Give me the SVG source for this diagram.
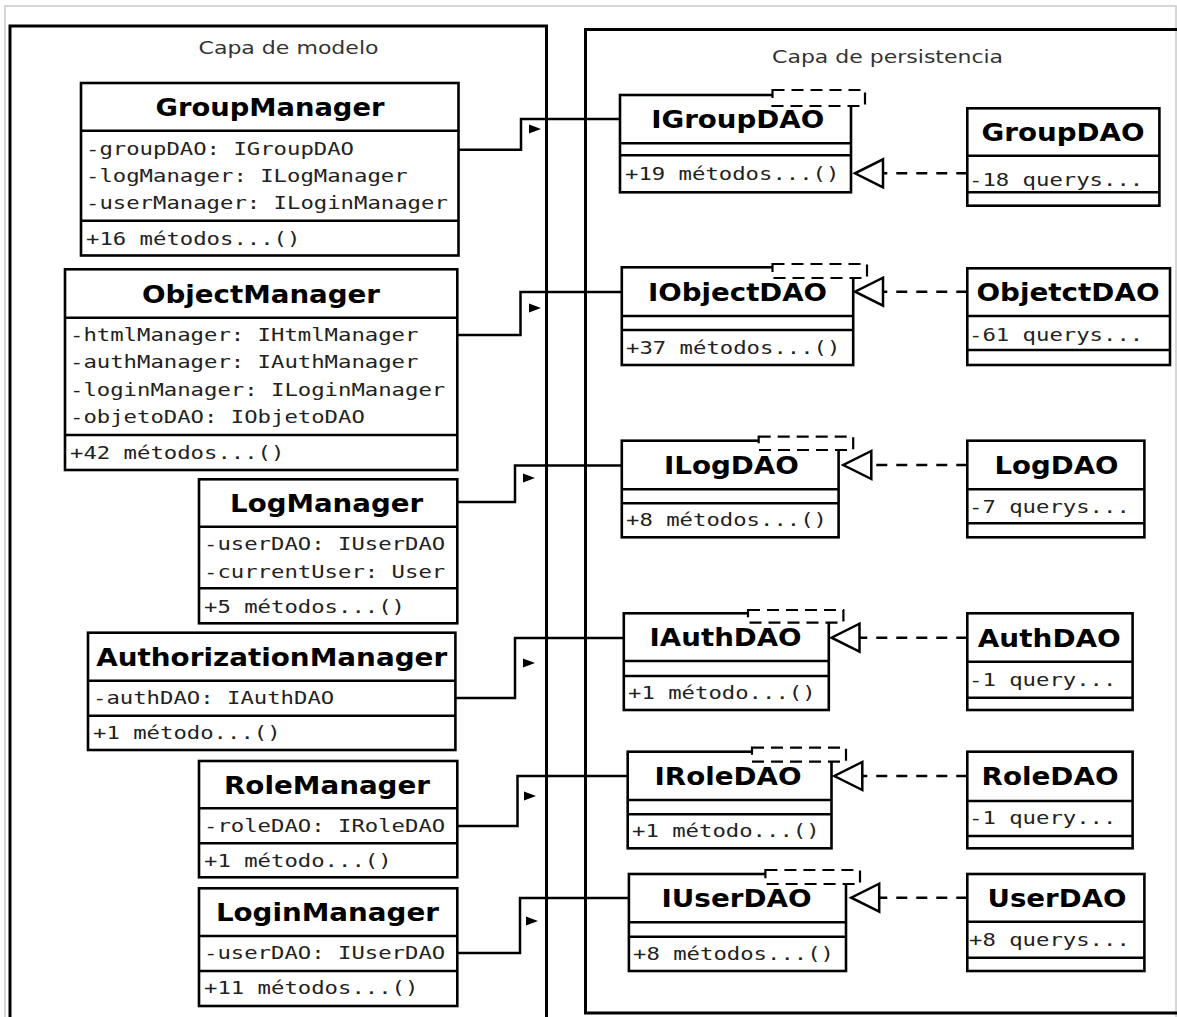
<svg xmlns="http://www.w3.org/2000/svg" xmlns:xlink="http://www.w3.org/1999/xlink" width="1177" height="1017" viewBox="0 0 1177 1017">
<style>
.box{fill:#fff;stroke:#000;stroke-width:2.6}
.sep{stroke:#000;stroke-width:2.6;fill:none}
.frame{fill:none;stroke:#000;stroke-width:3}
.tmpl{fill:#fff;stroke:#000;stroke-width:2.2;stroke-dasharray:12 7}
.title{font-family:"DejaVu Sans","Liberation Sans",sans-serif;font-weight:bold;font-size:24px;text-anchor:middle;fill:#000}
.mono{font-family:"DejaVu Sans Mono","Liberation Mono",monospace;font-size:17px;fill:#222}
.cap{font-family:"DejaVu Sans","Liberation Sans",sans-serif;font-size:18px;text-anchor:middle;fill:#333}
.assoc{fill:none;stroke:#000;stroke-width:2.5}
.real{fill:none;stroke:#000;stroke-width:2.5;stroke-dasharray:11 9}
</style>
<defs>
<marker id="hollow" markerUnits="userSpaceOnUse" markerWidth="34" markerHeight="34" refX="28" refY="14" orient="auto" overflow="visible">
<path d="M0,0 L28,14 L0,28 Z" fill="#fff" stroke="#000" stroke-width="2.5"/>
</marker>
<path id="nav" d="M0,-4.5 L12,0 L0,4.5 Z" fill="#000"/>
</defs>
<rect x="0" y="0" width="1177" height="1017" fill="#fff"/>
<rect x="5" y="6" width="1171" height="1030" fill="none" stroke="#c8c8c8" stroke-width="1.5"/>

<g id="capa-modelo">
<path class="frame" d="M10,1020 V26 H546.5 V1020"/>
<text class="cap" x="288.5" y="54" textLength="180" lengthAdjust="spacingAndGlyphs">Capa de modelo</text>
</g>
<g id="capa-persistencia">
<rect class="frame" x="585.5" y="29.5" width="700" height="983.5"/>
<text class="cap" x="887.6" y="63" textLength="231" lengthAdjust="spacingAndGlyphs">Capa de persistencia</text>
</g>

<g id="GroupManager">
<rect class="box" x="81" y="83" width="377.5" height="172.5"/>
<path class="sep" d="M81,130.7 H458.5 M81,220.7 H458.5"/>
<text class="title" x="270" y="116" textLength="229" lengthAdjust="spacingAndGlyphs">GroupManager</text>
<text class="mono" x="86" y="155" textLength="268" lengthAdjust="spacingAndGlyphs">-groupDAO: IGroupDAO</text>
<text class="mono" x="86" y="182" textLength="321.6" lengthAdjust="spacingAndGlyphs">-logManager: ILogManager</text>
<text class="mono" x="86" y="209" textLength="361.8" lengthAdjust="spacingAndGlyphs">-userManager: ILoginManager</text>
<text class="mono" x="86" y="245" textLength="214.4" lengthAdjust="spacingAndGlyphs">+16 métodos...()</text>
</g>

<g id="ObjectManager">
<rect class="box" x="65" y="269.3" width="392.3" height="200.7"/>
<path class="sep" d="M65,317.7 H457.3 M65,435 H457.3"/>
<text class="title" x="261" y="302.5" textLength="238" lengthAdjust="spacingAndGlyphs">ObjectManager</text>
<text class="mono" x="70" y="341" textLength="348.4" lengthAdjust="spacingAndGlyphs">-htmlManager: IHtmlManager</text>
<text class="mono" x="70" y="368.3" textLength="348.4" lengthAdjust="spacingAndGlyphs">-authManager: IAuthManager</text>
<text class="mono" x="70" y="396" textLength="375.2" lengthAdjust="spacingAndGlyphs">-loginManager: ILoginManager</text>
<text class="mono" x="70" y="423.3" textLength="294.8" lengthAdjust="spacingAndGlyphs">-objetoDAO: IObjetoDAO</text>
<text class="mono" x="70" y="458.7" textLength="214.4" lengthAdjust="spacingAndGlyphs">+42 métodos...()</text>
</g>

<g id="LogManager">
<rect class="box" x="199" y="479.3" width="258.3" height="144"/>
<path class="sep" d="M199,526.7 H457.3 M199,588.3 H457.3"/>
<text class="title" x="326.6" y="512" textLength="193" lengthAdjust="spacingAndGlyphs">LogManager</text>
<text class="mono" x="204" y="550.3" textLength="241.2" lengthAdjust="spacingAndGlyphs">-userDAO: IUserDAO</text>
<text class="mono" x="204" y="577.7" textLength="241.2" lengthAdjust="spacingAndGlyphs">-currentUser: User</text>
<text class="mono" x="204" y="612.7" textLength="201" lengthAdjust="spacingAndGlyphs">+5 métodos...()</text>
</g>

<g id="AuthorizationManager">
<rect class="box" x="88" y="632.7" width="367.4" height="117.3"/>
<path class="sep" d="M88,680.7 H455.4 M88,715.7 H455.4"/>
<text class="title" x="271.7" y="665.7" textLength="351" lengthAdjust="spacingAndGlyphs">AuthorizationManager</text>
<text class="mono" x="93" y="704.3" textLength="241.2" lengthAdjust="spacingAndGlyphs">-authDAO: IAuthDAO</text>
<text class="mono" x="93" y="739.3" textLength="187.6" lengthAdjust="spacingAndGlyphs">+1 método...()</text>
</g>

<g id="RoleManager">
<rect class="box" x="199" y="761" width="258.3" height="116.3"/>
<path class="sep" d="M199,808.3 H457.3 M199,843.3 H457.3"/>
<text class="title" x="327" y="793.7" textLength="206" lengthAdjust="spacingAndGlyphs">RoleManager</text>
<text class="mono" x="204" y="832" textLength="241.2" lengthAdjust="spacingAndGlyphs">-roleDAO: IRoleDAO</text>
<text class="mono" x="204" y="866.7" textLength="187.6" lengthAdjust="spacingAndGlyphs">+1 método...()</text>
</g>

<g id="LoginManager">
<rect class="box" x="199" y="888.3" width="258.3" height="117.7"/>
<path class="sep" d="M199,936 H457.3 M199,971 H457.3"/>
<text class="title" x="327.4" y="921" textLength="223" lengthAdjust="spacingAndGlyphs">LoginManager</text>
<text class="mono" x="204" y="959.3" textLength="241.2" lengthAdjust="spacingAndGlyphs">-userDAO: IUserDAO</text>
<text class="mono" x="204" y="994.3" textLength="214.4" lengthAdjust="spacingAndGlyphs">+11 métodos...()</text>
</g>

<g id="IGroupDAO">
<rect class="box" x="620" y="95" width="231" height="97.3"/>
<path class="sep" d="M620,143.3 H851 M620,155.3 H851"/>
<rect class="tmpl" x="772.5" y="90" width="92.5" height="16"/>
<text class="title" x="737.7" y="128" textLength="173" lengthAdjust="spacingAndGlyphs">IGroupDAO</text>
<text class="mono" x="625" y="179.5" textLength="214.4" lengthAdjust="spacingAndGlyphs">+19 métodos...()</text>
</g>

<g id="GroupDAO">
<rect class="box" x="967.3" y="108.3" width="192.1" height="97.4"/>
<path class="sep" d="M967.3,155.7 H1159.4 M967.3,192.3 H1159.4"/>
<text class="title" x="1063" y="141" textLength="163" lengthAdjust="spacingAndGlyphs">GroupDAO</text>
<text class="mono" x="969" y="186" textLength="174.2" lengthAdjust="spacingAndGlyphs">-18 querys...</text>
</g>

<g id="IObjectDAO">
<rect class="box" x="621.8" y="267.3" width="231.4" height="97.7"/>
<path class="sep" d="M621.8,316 H853.2 M621.8,330 H853.2"/>
<rect class="tmpl" x="772.5" y="264" width="94.5" height="14"/>
<text class="title" x="737.6" y="300.7" textLength="179" lengthAdjust="spacingAndGlyphs">IObjectDAO</text>
<text class="mono" x="626" y="353.7" textLength="214.4" lengthAdjust="spacingAndGlyphs">+37 métodos...()</text>
</g>

<g id="ObjetctDAO">
<rect class="box" x="967.3" y="268.3" width="202.7" height="96.7"/>
<path class="sep" d="M967.3,316 H1170 M967.3,350 H1170"/>
<text class="title" x="1068" y="301.2" textLength="183" lengthAdjust="spacingAndGlyphs">ObjetctDAO</text>
<text class="mono" x="969" y="341" textLength="174.2" lengthAdjust="spacingAndGlyphs">-61 querys...</text>
</g>

<g id="ILogDAO">
<rect class="box" x="621.8" y="440.7" width="216.8" height="96.6"/>
<path class="sep" d="M621.8,489.3 H838.6 M621.8,503.3 H838.6"/>
<rect class="tmpl" x="758.7" y="436.7" width="94.5" height="13.3"/>
<text class="title" x="731.4" y="474" textLength="135" lengthAdjust="spacingAndGlyphs">ILogDAO</text>
<text class="mono" x="626" y="526" textLength="201" lengthAdjust="spacingAndGlyphs">+8 métodos...()</text>
</g>

<g id="LogDAO">
<rect class="box" x="967.3" y="440.7" width="177.1" height="96.6"/>
<path class="sep" d="M967.3,489.3 H1144.4 M967.3,523.3 H1144.4"/>
<text class="title" x="1056.5" y="474" textLength="124" lengthAdjust="spacingAndGlyphs">LogDAO</text>
<text class="mono" x="969" y="512.7" textLength="160.8" lengthAdjust="spacingAndGlyphs">-7 querys...</text>
</g>

<g id="IAuthDAO">
<rect class="box" x="623.8" y="613.3" width="205" height="96.7"/>
<path class="sep" d="M623.8,661 H828.8 M623.8,676 H828.8"/>
<rect class="tmpl" x="748" y="610" width="95.4" height="12.7"/>
<text class="title" x="725.6" y="646.2" textLength="152" lengthAdjust="spacingAndGlyphs">IAuthDAO</text>
<text class="mono" x="628" y="699.3" textLength="187.6" lengthAdjust="spacingAndGlyphs">+1 método...()</text>
</g>

<g id="AuthDAO">
<rect class="box" x="967.3" y="613.3" width="165.3" height="96.7"/>
<path class="sep" d="M967.3,661.7 H1132.6 M967.3,697.7 H1132.6"/>
<text class="title" x="1049.3" y="646.5" textLength="143" lengthAdjust="spacingAndGlyphs">AuthDAO</text>
<text class="mono" x="969" y="686" textLength="147.4" lengthAdjust="spacingAndGlyphs">-1 query...</text>
</g>

<g id="IRoleDAO">
<rect class="box" x="627.7" y="751.7" width="203.8" height="96.6"/>
<path class="sep" d="M627.7,800 H831.5 M627.7,814.3 H831.5"/>
<rect class="tmpl" x="752" y="747.7" width="94" height="14"/>
<text class="title" x="728" y="784.8" textLength="147" lengthAdjust="spacingAndGlyphs">IRoleDAO</text>
<text class="mono" x="632" y="837" textLength="187.6" lengthAdjust="spacingAndGlyphs">+1 método...()</text>
</g>

<g id="RoleDAO">
<rect class="box" x="967.3" y="751.7" width="165.3" height="96.6"/>
<path class="sep" d="M967.3,801 H1132.6 M967.3,836 H1132.6"/>
<text class="title" x="1050" y="785.3" textLength="137" lengthAdjust="spacingAndGlyphs">RoleDAO</text>
<text class="mono" x="969" y="824.3" textLength="147.4" lengthAdjust="spacingAndGlyphs">-1 query...</text>
</g>

<g id="IUserDAO">
<rect class="box" x="628.9" y="874" width="217.1" height="97"/>
<path class="sep" d="M628.9,922.3 H846 M628.9,936.7 H846"/>
<rect class="tmpl" x="765.4" y="870" width="94.6" height="14"/>
<text class="title" x="736.5" y="907.2" textLength="150" lengthAdjust="spacingAndGlyphs">IUserDAO</text>
<text class="mono" x="633" y="960.3" textLength="201" lengthAdjust="spacingAndGlyphs">+8 métodos...()</text>
</g>

<g id="UserDAO">
<rect class="box" x="967.3" y="874" width="177.1" height="97"/>
<path class="sep" d="M967.3,921.7 H1144.4 M967.3,957.7 H1144.4"/>
<text class="title" x="1057" y="906.8" textLength="139" lengthAdjust="spacingAndGlyphs">UserDAO</text>
<text class="mono" x="969" y="946" textLength="160.8" lengthAdjust="spacingAndGlyphs">+8 querys...</text>
</g>

<g id="connectors">
<path class="assoc" d="M458.5,149.7 H521 V119 H620"/>
<path class="assoc" d="M457.3,335 H520.5 V292 H621.8"/>
<path class="assoc" d="M457.3,502 H515 V465.5 H621.8"/>
<path class="assoc" d="M455.4,698 H515 V638 H623.8"/>
<path class="assoc" d="M457.3,826 H517.5 V776 H627.7"/>
<path class="assoc" d="M457.3,953 H520 V898 H628.9"/>
<use xlink:href="#nav" x="529" y="129"/>
<use xlink:href="#nav" x="529" y="308"/>
<use xlink:href="#nav" x="523" y="478"/>
<use xlink:href="#nav" x="523" y="663"/>
<use xlink:href="#nav" x="524" y="796"/>
<use xlink:href="#nav" x="526" y="921"/>
<path class="real" d="M967.3,173.3 H855" marker-end="url(#hollow)"/>
<path class="real" d="M967.3,291.7 H855" marker-end="url(#hollow)"/>
<path class="real" d="M967.3,465 H843.3" marker-end="url(#hollow)"/>
<path class="real" d="M967.3,637.7 H831.5" marker-end="url(#hollow)"/>
<path class="real" d="M967.3,776 H834.3" marker-end="url(#hollow)"/>
<path class="real" d="M967.3,897.7 H851.2" marker-end="url(#hollow)"/>
</g>
</svg>
